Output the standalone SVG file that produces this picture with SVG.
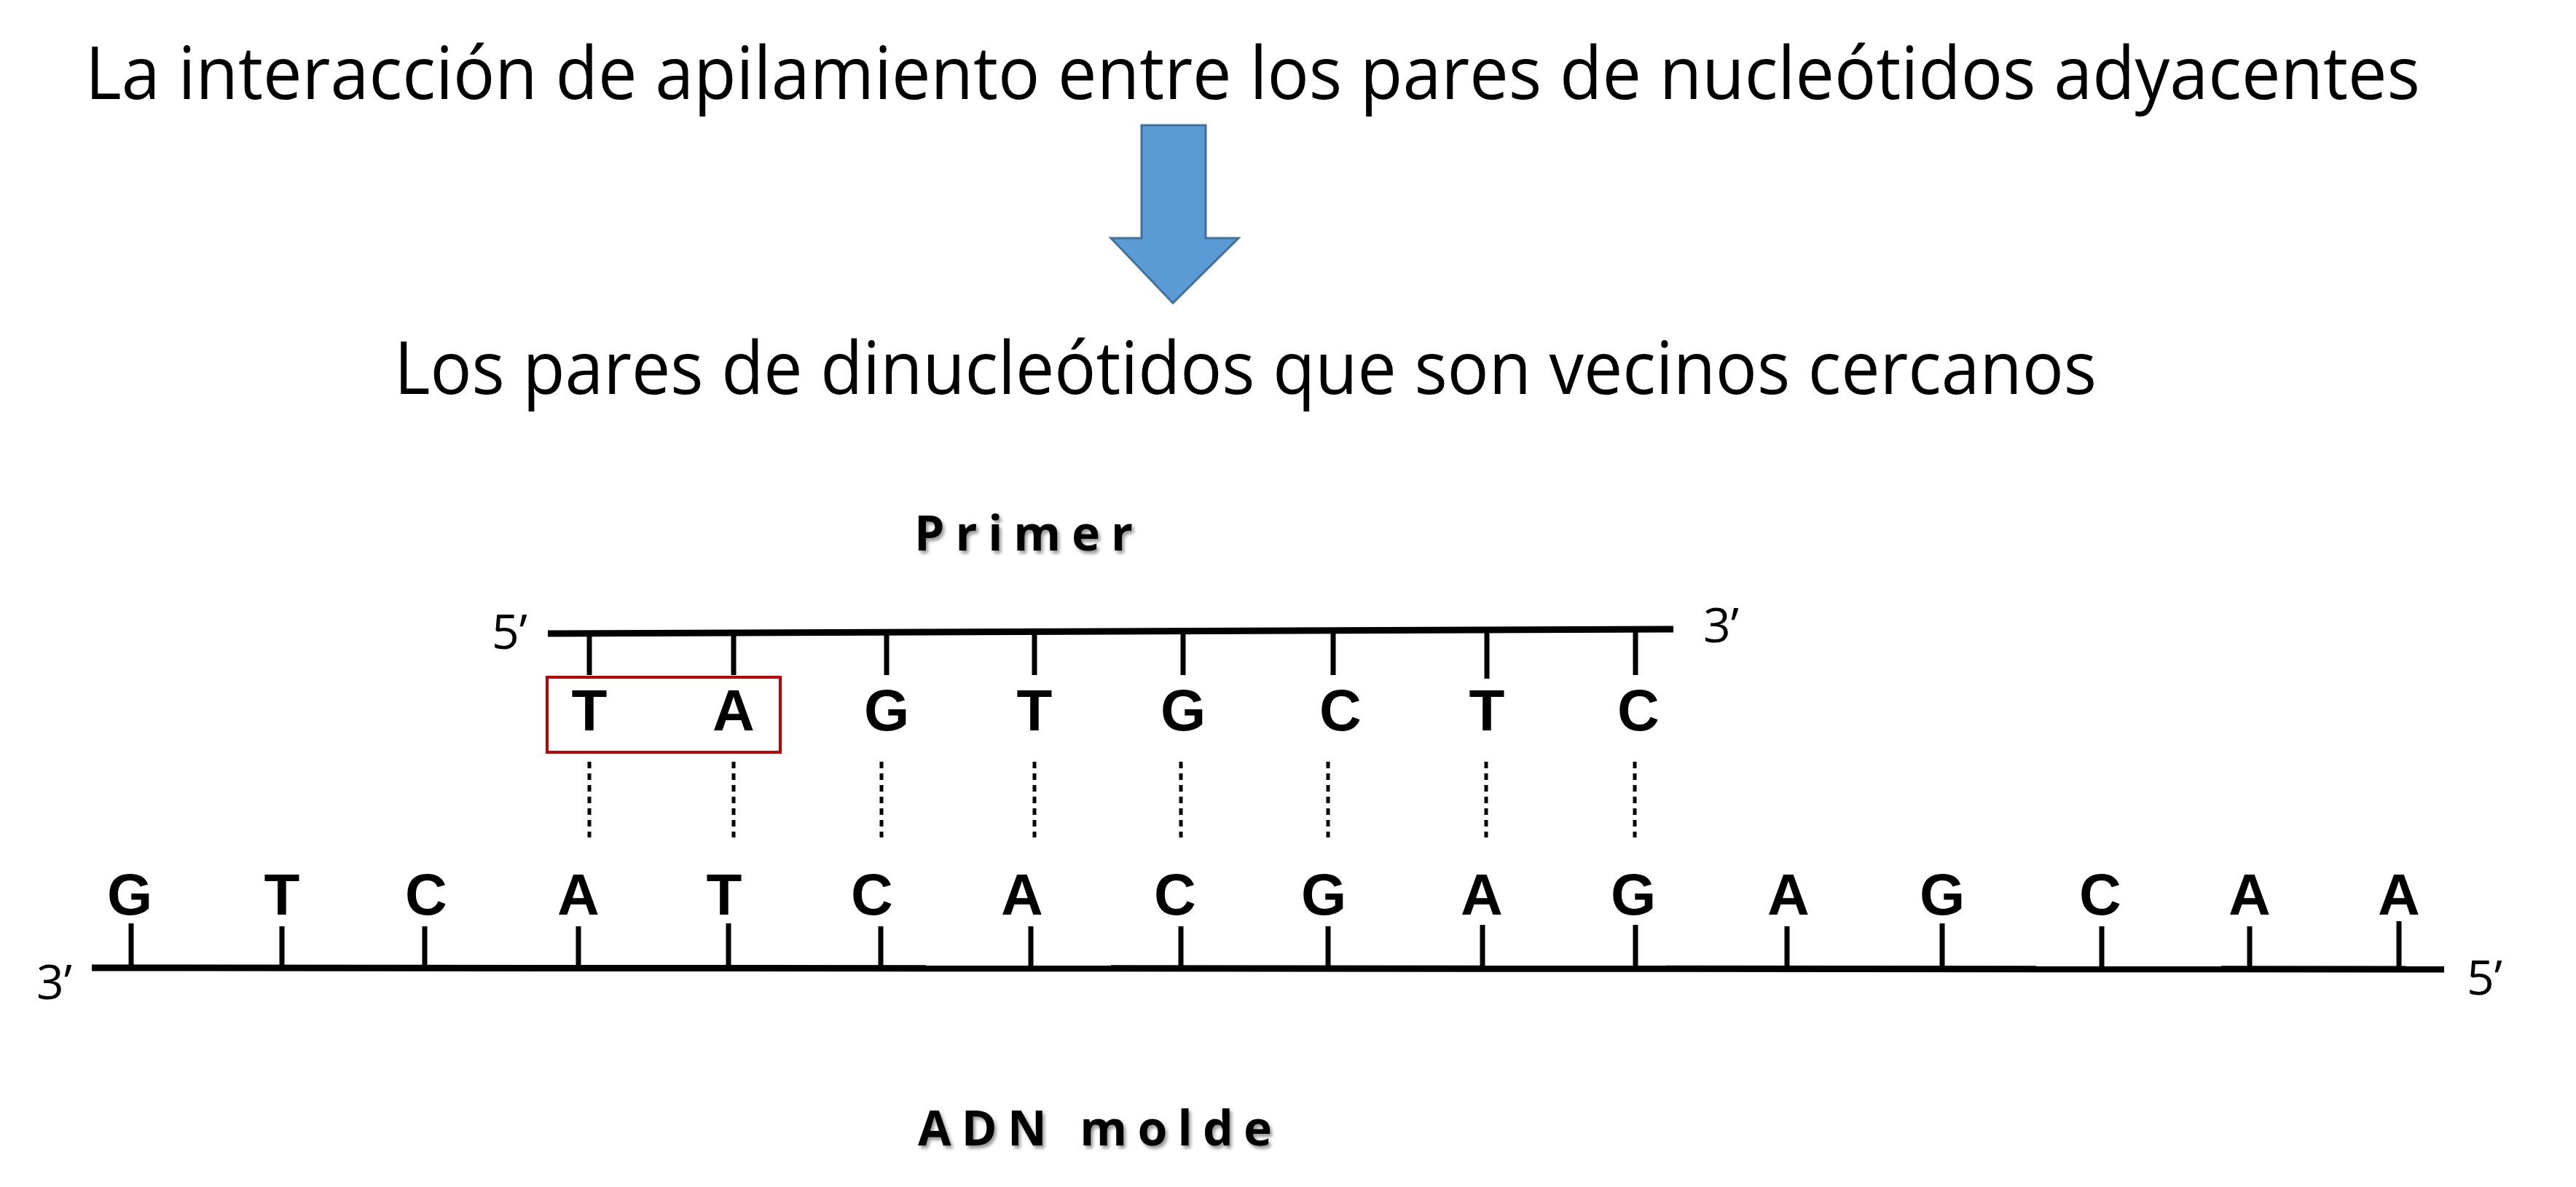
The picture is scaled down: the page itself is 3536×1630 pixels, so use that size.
<svg xmlns="http://www.w3.org/2000/svg" width="3536" height="1630" viewBox="0 0 3536 1630">
<defs>
<style>
.t{font-family:"Open Sans","Liberation Sans",sans-serif;fill:#000}
.b{font-family:"Liberation Sans",Arial,sans-serif;font-weight:bold;font-size:80px;text-anchor:middle;fill:#000}
.e{font-family:"Open Sans","Liberation Sans",sans-serif;font-size:66px;fill:#000}
.lab{font-family:"Open Sans","Liberation Sans",sans-serif;font-weight:bold;font-size:66px;letter-spacing:14px;fill:#000;filter:url(#sh)}
.tk{stroke:#000;stroke-width:7}
.dt{stroke:#000;stroke-width:5;stroke-dasharray:9 7}
</style>
<filter id="sh" x="-10%" y="-30%" width="130%" height="170%"><feDropShadow dx="3" dy="4" stdDeviation="2" flood-color="#000" flood-opacity="0.4"/></filter>
</defs>
<g id="title1"><text class="t" x="117" y="136" font-size="100" textLength="3205" lengthAdjust="spacingAndGlyphs">La interacción de apilamiento entre los pares de nucleótidos adyacentes</text></g>
<g id="arrow"><polygon points="1567,172 1655,172 1655,327 1700,327 1610,416 1525,327 1567,327" fill="#5b9bd5" stroke="#41719c" stroke-width="3"/></g>
<g id="title2"><text class="t" x="541" y="541" font-size="100" textLength="2337" lengthAdjust="spacingAndGlyphs">Los pares de dinucleótidos que son vecinos cercanos</text></g>
<g id="primer-label"><text class="lab" x="1255" y="756" textLength="314">Primer</text></g>
<g id="adn-label"><text class="lab" x="1260" y="1573" textLength="500">ADN molde</text></g>
<g id="primer">
<text class="e" x="675" y="891">5’</text>
<text class="e" x="2338" y="882">3’</text>
<line x1="752" y1="870" x2="2297" y2="864" stroke="#000" stroke-width="9"/>
<g class="tk">
<line x1="809" y1="869" x2="809" y2="927"/><line x1="1007" y1="869" x2="1007" y2="927"/><line x1="1217" y1="868" x2="1217" y2="927"/><line x1="1420" y1="868" x2="1420" y2="927"/><line x1="1624" y1="867" x2="1624" y2="927"/><line x1="1830" y1="866" x2="1830" y2="927"/><line x1="2041" y1="866" x2="2041" y2="932"/><line x1="2245" y1="865" x2="2245" y2="927"/>
</g>
<text class="b" x="809" y="1003">T</text><text class="b" x="1007" y="1003">A</text><text class="b" x="1217" y="1003">G</text><text class="b" x="1420" y="1003">T</text><text class="b" x="1624" y="1003">G</text><text class="b" x="1840" y="1003">C</text><text class="b" x="2041" y="1003">T</text><text class="b" x="2249" y="1003">C</text>
<rect x="751" y="930" width="320" height="103" fill="none" stroke="#c00000" stroke-width="4"/>
</g>
<g id="connectors">
<line class="dt" x1="809" y1="1046" x2="809" y2="1150"/><line class="dt" x1="1007" y1="1046" x2="1007" y2="1150"/><line class="dt" x1="1210" y1="1046" x2="1210" y2="1150"/><line class="dt" x1="1420" y1="1046" x2="1420" y2="1150"/><line class="dt" x1="1621" y1="1046" x2="1621" y2="1150"/><line class="dt" x1="1823" y1="1046" x2="1823" y2="1150"/><line class="dt" x1="2040" y1="1046" x2="2040" y2="1150"/><line class="dt" x1="2244" y1="1046" x2="2244" y2="1150"/>
</g>
<g id="template">
<text class="e" x="50" y="1372">3’</text>
<text class="e" x="3386" y="1366">5’</text>
<line x1="126" y1="1329" x2="3355" y2="1331" stroke="#000" stroke-width="9"/>
<g class="tk">
<line x1="180" y1="1268" x2="180" y2="1329"/><line x1="387" y1="1272" x2="387" y2="1329"/><line x1="583" y1="1272" x2="583" y2="1329"/><line x1="794" y1="1272" x2="794" y2="1329"/><line x1="1000" y1="1268" x2="1000" y2="1329"/><line x1="1209" y1="1272" x2="1209" y2="1329"/><line x1="1415" y1="1272" x2="1415" y2="1329"/><line x1="1621" y1="1272" x2="1621" y2="1329"/><line x1="1823" y1="1272" x2="1823" y2="1330"/><line x1="2035" y1="1270" x2="2035" y2="1330"/><line x1="2245" y1="1270" x2="2245" y2="1330"/><line x1="2453" y1="1272" x2="2453" y2="1330"/><line x1="2666" y1="1268" x2="2666" y2="1330"/><line x1="2885" y1="1272" x2="2885" y2="1331"/><line x1="3088" y1="1272" x2="3088" y2="1331"/><line x1="3293" y1="1265" x2="3293" y2="1331"/>
</g>
<text class="b" x="178" y="1256">G</text><text class="b" x="387" y="1256">T</text><text class="b" x="585" y="1256">C</text><text class="b" x="794" y="1256">A</text><text class="b" x="994" y="1256">T</text><text class="b" x="1197" y="1256">C</text><text class="b" x="1403" y="1256">A</text><text class="b" x="1613" y="1256">C</text><text class="b" x="1817" y="1256">G</text><text class="b" x="2034" y="1256">A</text><text class="b" x="2242" y="1256">G</text><text class="b" x="2455" y="1256">A</text><text class="b" x="2666" y="1256">G</text><text class="b" x="2883" y="1256">C</text><text class="b" x="3088" y="1256">A</text><text class="b" x="3293" y="1256">A</text>
</g>
</svg>
